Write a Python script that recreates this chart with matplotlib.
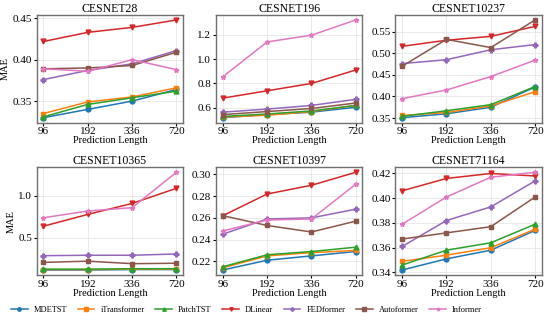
import matplotlib
matplotlib.use("Agg")
import matplotlib.pyplot as plt
import numpy as np

plt.rcParams['font.family'] = ['Liberation Serif', 'DejaVu Serif']

pred_lengths = ['96', '192', '336', '720']
models = ['MDETST', 'iTransformer', 'PatchTST', 'DLinear', 'FEDformer', 'Autoformer', 'Informer']
colors = ['#1f77b4', '#ff7f0e', '#2ca02c', '#d62728', '#9467bd', '#8c564b', '#e377c2']
markers = ['o', 's', '^', 'v', 'P', 's', '*']

datasets = ['CESNET28', 'CESNET196', 'CESNET10237', 'CESNET10365', 'CESNET10397', 'CESNET71164']

cesnet28 = [
    [0.330, 0.340, 0.350, 0.364],
    [0.335, 0.349, 0.355, 0.366],
    [0.331, 0.346, 0.354, 0.362],
    [0.422, 0.433, 0.439, 0.448],
    [0.376, 0.387, 0.395, 0.411],
    [0.389, 0.390, 0.393, 0.409],
    [0.389, 0.386, 0.400, 0.388],
]
cesnet196 = [
    [0.520, 0.545, 0.565, 0.605],
    [0.525, 0.540, 0.570, 0.620],
    [0.530, 0.550, 0.575, 0.620],
    [0.680, 0.740, 0.800, 0.910],
    [0.565, 0.590, 0.620, 0.670],
    [0.545, 0.570, 0.595, 0.640],
    [0.855, 1.140, 1.195, 1.320],
]
cesnet10237 = [
    [0.351, 0.360, 0.375, 0.422],
    [0.356, 0.363, 0.378, 0.411],
    [0.354, 0.367, 0.381, 0.423],
    [0.516, 0.530, 0.539, 0.562],
    [0.476, 0.485, 0.508, 0.520],
    [0.470, 0.532, 0.513, 0.577],
    [0.395, 0.415, 0.446, 0.484],
]
cesnet10365 = [
    [0.120, 0.120, 0.125, 0.125],
    [0.125, 0.125, 0.130, 0.130],
    [0.130, 0.130, 0.135, 0.135],
    [0.640, 0.780, 0.910, 1.090],
    [0.290, 0.295, 0.295, 0.310],
    [0.210, 0.225, 0.195, 0.200],
    [0.740, 0.820, 0.860, 1.280],
]
cesnet10397 = [
    [0.212, 0.221, 0.225, 0.229],
    [0.214, 0.225, 0.228, 0.230],
    [0.215, 0.226, 0.229, 0.233],
    [0.262, 0.282, 0.290, 0.302],
    [0.245, 0.259, 0.260, 0.268],
    [0.262, 0.253, 0.247, 0.257],
    [0.248, 0.258, 0.259, 0.291],
]
cesnet71164 = [
    [0.342, 0.351, 0.358, 0.374],
    [0.349, 0.354, 0.360, 0.375],
    [0.346, 0.358, 0.364, 0.379],
    [0.406, 0.416, 0.420, 0.418],
    [0.361, 0.382, 0.393, 0.414],
    [0.367, 0.372, 0.377, 0.401],
    [0.379, 0.401, 0.417, 0.421],
]
all_data = [cesnet28, cesnet196, cesnet10237, cesnet10365, cesnet10397, cesnet71164]

yticks = [
    [0.35, 0.40, 0.45],
    [0.6, 0.8, 1.0, 1.2],
    [0.35, 0.40, 0.45, 0.50, 0.55],
    [0.5, 1.0],
    [0.22, 0.24, 0.26, 0.28, 0.30],
    [0.34, 0.36, 0.38, 0.40, 0.42],
]
yfmt = ['%.2f', '%.1f', '%.2f', '%.1f', '%.2f', '%.2f']

fig, axes = plt.subplots(2, 3, figsize=(5.5, 3.2), dpi=100)
plt.subplots_adjust(left=0.067, right=0.985, top=0.953, bottom=0.141, wspace=0.226, hspace=0.417)

x = np.arange(len(pred_lengths))
for i, ax in enumerate(axes.flat):
    for j, m in enumerate(models):
        ax.plot(x, all_data[i][j], color=colors[j], marker=markers[j], markersize=3.5,
                linewidth=1.1, label=m)
    ax.set_title(datasets[i], fontsize=8.5, pad=2)
    ax.set_xticks(x)
    ax.set_xticklabels(pred_lengths)
    ax.set_yticks(yticks[i])
    ax.yaxis.set_major_formatter(matplotlib.ticker.FormatStrFormatter(yfmt[i]))
    ax.tick_params(labelsize=8, length=2, pad=1.5)
    ax.set_xlabel('Prediction Length', fontsize=7.5, labelpad=0)
    ax.grid(True, color='#e6e6e6', linewidth=0.6)
    for s in ax.spines.values():
        s.set_color('#707070')
        s.set_linewidth(1.0)
    if i % 3 == 0:
        ax.set_ylabel('MAE', fontsize=7.5, labelpad=2)

handles, labels = axes[0, 0].get_legend_handles_labels()
fig.legend(handles, labels, loc='center', ncol=7, fontsize=6, frameon=False,
           bbox_to_anchor=(0.448, 0.03), handlelength=2.0, columnspacing=1.3,
           handletextpad=0.7, markerscale=0.7)

plt.savefig('out.png', dpi=100)
